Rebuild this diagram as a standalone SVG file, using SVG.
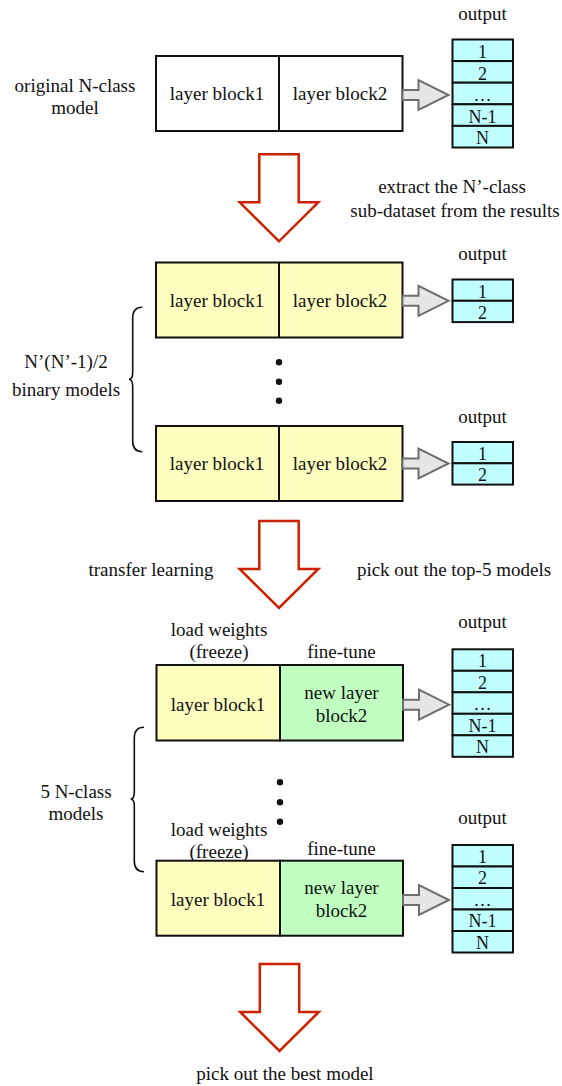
<svg xmlns="http://www.w3.org/2000/svg" width="562" height="1086" viewBox="0 0 562 1086" font-family="'Liberation Serif', 'Times New Roman', 'DejaVu Serif', serif">
<style>
text{font-family:'Liberation Serif','Times New Roman','DejaVu Serif',serif;font-size:19px;fill:#111;text-anchor:middle}
.c{font-size:18px}
.blk{stroke:#111;stroke-width:2}
.w{fill:#fff}
.y{fill:#ffffc0}
.g{fill:#c0ffc0}
.cy{fill:#c0ffff;stroke:#111;stroke-width:2}
.ga{fill:#e6e6e6;stroke:#6e6e6e;stroke-width:2;stroke-linejoin:miter}
.ra{fill:#fff;stroke:#cc2200;stroke-width:2.5;stroke-linejoin:miter}
.br{fill:none;stroke:#111;stroke-width:1.6}
</style>
<defs>
<polygon id="garrow" class="ga" points="0,-5 16,-5 16,-15 46,0 16,15 16,5 0,5"/>
<polygon id="rarrow" class="ra" points="-19.7,0 19.7,0 19.7,48 39.3,48 0,87 -39.3,48 -19.7,48"/>
</defs>

<g id="labels">
<text x="75" y="91.5">original N-class</text>
<text x="75" y="114">model</text>
<text x="452" y="192.5">extract the N’-class</text>
<text x="455" y="216.5">sub-dataset from the results</text>
<text x="66" y="368">N’(N’-1)/2</text>
<text x="66" y="396">binary models</text>
<text x="151" y="576">transfer learning</text>
<text x="454" y="576">pick out the top-5 models</text>
<text x="76" y="798">5 N-class</text>
<text x="76" y="820">models</text>
<text x="285" y="1079.5">pick out the best model</text>
</g>

<g id="model-original">
<rect class="blk w" x="156" y="56" width="246.5" height="75"/>
<line class="blk" x1="279" y1="56" x2="279" y2="131"/>
<text x="217" y="100">layer block1</text>
<text x="340" y="100">layer block2</text>
</g>
<g id="output-1">
<text x="482.5" y="20">output</text>
<rect class="cy" x="452.5" y="39.5" width="60.5" height="21.6"/>
<rect class="cy" x="452.5" y="61.1" width="60.5" height="21.6"/>
<rect class="cy" x="452.5" y="82.7" width="60.5" height="21.6"/>
<rect class="cy" x="452.5" y="104.3" width="60.5" height="21.6"/>
<rect class="cy" x="452.5" y="125.9" width="60.5" height="21.6"/>
<text class="c" x="482.5" y="58">1</text>
<text class="c" x="482.5" y="79.5">2</text>
<text class="c" x="482.5" y="101">…</text>
<text class="c" x="482.5" y="122.5">N-1</text>
<text class="c" x="482.5" y="144">N</text>
</g>

<g id="binary-model-1">
<rect class="blk y" x="156" y="262.5" width="246.5" height="75"/>
<line class="blk" x1="279" y1="262.5" x2="279" y2="337.5"/>
<text x="217" y="306.5">layer block1</text>
<text x="340" y="306.5">layer block2</text>
</g>
<g id="output-2">
<text x="482.5" y="260">output</text>
<rect class="cy" x="452.5" y="279.5" width="60.5" height="21.3"/>
<rect class="cy" x="452.5" y="300.8" width="60.5" height="21.3"/>
<text class="c" x="482.5" y="297.5">1</text>
<text class="c" x="482.5" y="318.5">2</text>
</g>

<g id="dots-1">
<circle cx="279" cy="362.3" r="3.2" fill="#111"/>
<circle cx="279" cy="381.7" r="3.2" fill="#111"/>
<circle cx="279" cy="400.7" r="3.2" fill="#111"/>
</g>

<g id="binary-model-2">
<rect class="blk y" x="156" y="426" width="246.5" height="75"/>
<line class="blk" x1="279" y1="426" x2="279" y2="501"/>
<text x="217" y="470">layer block1</text>
<text x="340" y="470">layer block2</text>
</g>
<g id="output-3">
<text x="482.5" y="423">output</text>
<rect class="cy" x="452.5" y="442" width="60.5" height="21.3"/>
<rect class="cy" x="452.5" y="463.3" width="60.5" height="21.3"/>
<text class="c" x="482.5" y="460">1</text>
<text class="c" x="482.5" y="481">2</text>
</g>

<g id="nclass-model-1">
<text x="219" y="636">load weights</text>
<text x="219" y="658">(freeze)</text>
<text x="341.5" y="658">fine-tune</text>
<rect class="blk y" x="156.5" y="665" width="123.5" height="75.5"/>
<rect class="blk g" x="280" y="665" width="123" height="75.5"/>
<text x="218" y="710.5">layer block1</text>
<text x="341.5" y="699">new layer</text>
<text x="341.5" y="721.5">block2</text>
</g>
<g id="output-4">
<text x="482.5" y="628">output</text>
<rect class="cy" x="452.5" y="649.3" width="60.5" height="21.5"/>
<rect class="cy" x="452.5" y="670.8" width="60.5" height="21.5"/>
<rect class="cy" x="452.5" y="692.3" width="60.5" height="21.5"/>
<rect class="cy" x="452.5" y="713.8" width="60.5" height="21.5"/>
<rect class="cy" x="452.5" y="735.3" width="60.5" height="21.5"/>
<text class="c" x="482.5" y="667">1</text>
<text class="c" x="482.5" y="688.5">2</text>
<text class="c" x="482.5" y="710">…</text>
<text class="c" x="482.5" y="731.5">N-1</text>
<text class="c" x="482.5" y="753">N</text>
</g>

<g id="dots-2">
<circle cx="280" cy="782.3" r="3.2" fill="#111"/>
<circle cx="280" cy="802.3" r="3.2" fill="#111"/>
<circle cx="280" cy="821.7" r="3.2" fill="#111"/>
</g>

<g id="nclass-model-2">
<text x="219" y="836">load weights</text>
<text x="219" y="858">(freeze)</text>
<text x="341.5" y="855">fine-tune</text>
<rect class="blk y" x="156.5" y="860.7" width="123.5" height="75"/>
<rect class="blk g" x="280" y="860.7" width="123" height="75"/>
<text x="218" y="906">layer block1</text>
<text x="341.5" y="894">new layer</text>
<text x="341.5" y="916.5">block2</text>
</g>
<g id="output-5">
<text x="482.5" y="824">output</text>
<rect class="cy" x="452.5" y="845" width="60.5" height="21.5"/>
<rect class="cy" x="452.5" y="866.5" width="60.5" height="21.5"/>
<rect class="cy" x="452.5" y="888" width="60.5" height="21.5"/>
<rect class="cy" x="452.5" y="909.5" width="60.5" height="21.5"/>
<rect class="cy" x="452.5" y="931" width="60.5" height="21.5"/>
<text class="c" x="482.5" y="862.5">1</text>
<text class="c" x="482.5" y="884">2</text>
<text class="c" x="482.5" y="905.5">…</text>
<text class="c" x="482.5" y="927">N-1</text>
<text class="c" x="482.5" y="948.5">N</text>
</g>

<g id="braces">
<path class="br" d="M142.3,307.3 Q132.7,307.3 132.7,318 L132.7,372 Q132.7,379.3 129,379.3 Q132.7,379.3 132.7,387 L132.7,441 Q132.7,451.7 142.3,451.7"/>
<path class="br" d="M144,727.3 Q134.3,727.3 134.3,738 L134.3,792 Q134.3,799 130.7,799 Q134.3,799 134.3,806 L134.3,861 Q134.3,871.7 144,871.7"/>
</g>

<g id="connectors">
<use href="#garrow" x="402.5" y="95"/>
<use href="#garrow" x="402.5" y="300.8"/>
<use href="#garrow" x="402.5" y="463.5"/>
<use href="#garrow" x="403" y="704.7"/>
<use href="#garrow" x="403" y="900"/>
<use href="#rarrow" x="279" y="154.3"/>
<use href="#rarrow" x="279" y="521"/>
<use href="#rarrow" x="279.5" y="964"/>
</g>
</svg>
